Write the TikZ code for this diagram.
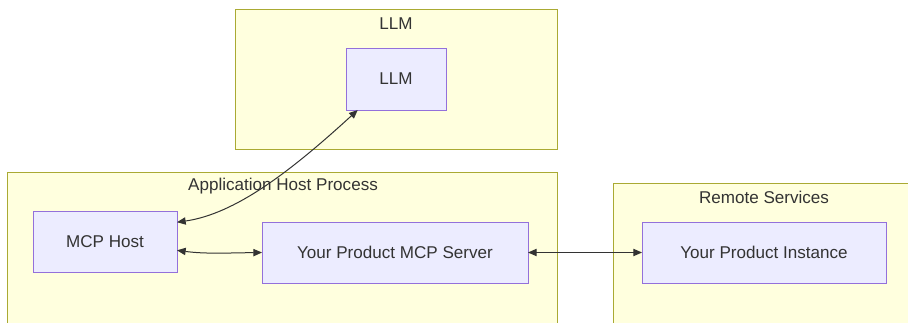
\documentclass[tikz,border=0pt]{standalone}
\usepackage{fontspec}
\setmainfont{Liberation Sans}
\usepackage{xcolor}
\usetikzlibrary{arrows.meta, positioning}

\definecolor{grpfill}{HTML}{FFFFDE}
\definecolor{grpline}{HTML}{AAAA33}
\definecolor{boxfill}{HTML}{ECECFF}
\definecolor{boxline}{HTML}{9370DB}
\definecolor{ink}{HTML}{333333}

\begin{document}
\begin{tikzpicture}[
      x=0.75pt, y=-0.75pt,
      every node/.style={font=\fontsize{12.8}{15}\selectfont, text=ink, outer sep=0pt},
      group/.style={rectangle, draw=grpline, fill=grpfill, line width=0.75pt},
      box/.style={rectangle, draw=boxline, fill=boxfill, line width=0.75pt, minimum height=45.75pt},
      link/.style={draw=ink, line width=0.75pt, {Triangle[length=6.5pt,width=5.5pt]}-{Triangle[length=6.5pt,width=5.5pt]}}
    ]
      \useasboundingbox (0,0) rectangle (908,322);
      \clip (0,0) rectangle (908,322);
      % clusters
      \node[group, minimum width=241.5pt, minimum height=105pt] (llmgrp) at (396,79) {};
      \node[group, minimum width=412.5pt, minimum height=126pt] (appgrp) at (282,256) {};
      \node[group, minimum width=241.5pt, minimum height=117.75pt] (remgrp) at (774,261.5) {};
      \node (llmtitle) at (396,24) {LLM};
      \node (apptitle) at (283,186) {Application Host Process};
      \node (remtitle) at (764,197) {Remote Services};
      % nodes
      \node[box, minimum width=75pt, minimum height=46.5pt] (llm) at (396,79) {LLM};
      \node[box, minimum width=108pt] (mcphost) at (105,241.5) {MCP Host};
      \node[box, minimum width=199.5pt] (server) at (395,252.5) {Your Product MCP Server};
      \node[box, minimum width=183pt] (instance) at (764,252.5) {Your Product Instance};
      % links
      \draw[link] (llm.-141) .. controls (290,172) and (235,214) .. (mcphost.15);
      \draw[link] (mcphost.-7) .. controls (205,254) and (225,253) .. (server.west);
      \draw[link] (server.east) -- (instance.west);
    \end{tikzpicture}
\end{document}
